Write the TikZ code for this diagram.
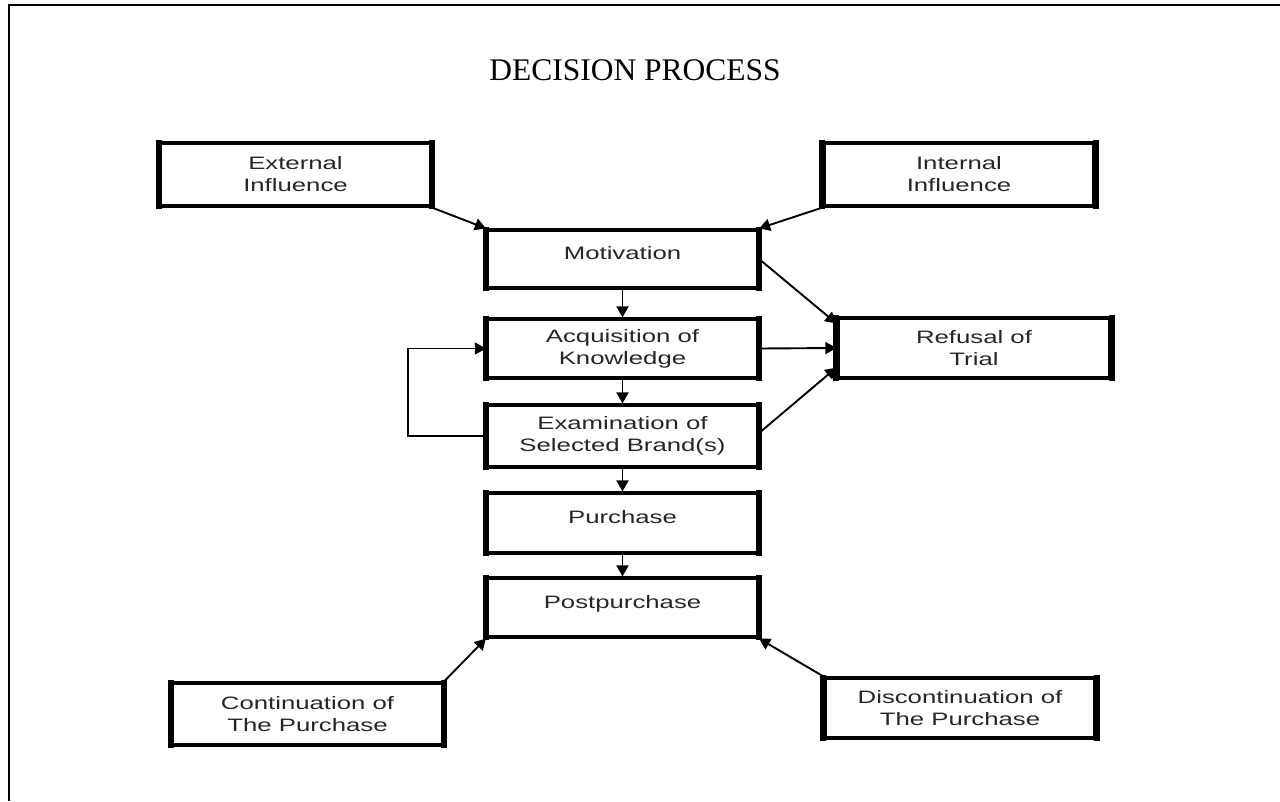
\documentclass[tikz,border=0pt]{standalone}
\usepackage{fontspec}
\setmainfont{Liberation Serif}
\newfontfamily\boxfont[FakeStretch=1.43]{Liberation Sans}
\usetikzlibrary{arrows.meta,calc}

\tikzset{
  stagebox/.style={draw, line width=3.2pt, minimum width=270pt, minimum height=60pt,
    inner sep=0pt, align=center, text=black!85,
    font=\boxfont\fontsize{18}{22}\selectfont},
  sideedge/.style={line width=6pt, line cap=rect},
  flow/.style={line width=1.9pt, -{Triangle[length=11pt,width=12pt]}},
  loopline/.style={line width=1.3pt, -{Triangle[length=11pt,width=12pt]}},
  frame/.style={line width=2.2pt},
}

\begin{document}
\begin{tikzpicture}[x=1pt,y=-1pt]
  \useasboundingbox (0,0) rectangle (1280,801);

  % page frame
  \draw[frame] (9,801) -- (9,5) -- (1280,5);

  % heading
  \node[anchor=base, font=\fontsize{31.5}{36}\selectfont] (title) at (635,80) {DECISION PROCESS};

  % stages
  \node[stagebox, minimum height=63pt] (ext)  at (295.5,174.5) {External\\Influence};
  \node[stagebox, minimum height=63pt] (int)  at (959,174.5)   {Internal\\Influence};
  \node[stagebox, minimum height=58pt] (mot)  at (622.5,259)   {\raisebox{12pt}{Motivation}};
  \node[stagebox, minimum height=59pt] (acq)  at (622.5,348.5) {Acquisition of\\Knowledge};
  \node[stagebox, minimum height=62pt] (exa)  at (622.5,436)   {Examination of\\Selected Brand(s)};
  \node[stagebox] (pur)  at (622.5,523)   {\raisebox{12pt}{Purchase}};
  \node[stagebox, minimum height=59pt] (post) at (622.5,607.5) {\raisebox{12pt}{Postpurchase}};
  \node[stagebox, minimum width=272pt] (ref)  at (974,348)     {Refusal of\\Trial};
  \node[stagebox, minimum height=62pt] (con)  at (307.5,714)   {Continuation of\\The Purchase};
  \node[stagebox] (dis)  at (960,708)     {Discontinuation of\\The Purchase};

  % heavier left and right sides of every box
  \foreach \n in {ext,int,mot,acq,exa,pur,post,ref,con,dis}{
    \draw[sideedge] ([yshift=-1.6pt]\n.north west) -- ([yshift=1.6pt]\n.south west)
                    ([yshift=-1.6pt]\n.north east) -- ([yshift=1.6pt]\n.south east);
  }

  % influences
  \draw[flow] (ext.south east) -- (mot.north west);
  \draw[flow] (int.south west) -- (mot.north east);

  % main sequence
  \draw[flow] (mot.south) -- (acq.north);
  \draw[flow] (acq.south) -- (exa.north);
  \draw[flow] (exa.south) -- (pur.north);
  \draw[flow] (pur.south) -- (post.north);

  % refusal branches
  \draw[flow] (mot.east) -- ($(ref.north west)+(0,7)$);
  \draw[flow] (acq.east) -- (ref.west);
  \draw[flow] ($(exa.east)+(0,-3)$) -- ($(ref.south west)+(0,-12)$);

  % feedback loop
  \draw[loopline] (exa.west) -- ++(-78,0) |- (acq.west);

  % outcomes
  \draw[flow] (con.north east) -- (post.south west);
  \draw[flow] (dis.north west) -- (post.south east);
\end{tikzpicture}
\end{document}
